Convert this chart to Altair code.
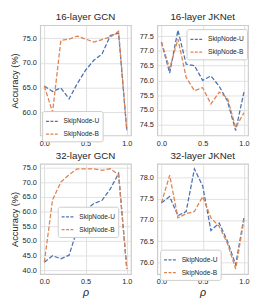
import altair as alt
import pandas as pd

rho = [0.0, 0.1, 0.2, 0.3, 0.4, 0.5, 0.6, 0.7, 0.8, 0.9, 1.0]
series_names = ["SkipNode-U", "SkipNode-B"]
colors = ["#4C72B0", "#DD8452"]

gcn16_u = [65.3, 64.2, 64.9, 62.7, 65.8, 68.5, 70.5, 71.8, 75.5, 76.0, 56.3]
gcn16_b = [65.3, 60.0, 74.5, 74.8, 75.4, 74.8, 74.2, 74.7, 75.2, 76.4, 56.3]
jk16_u = [77.3, 76.25, 77.7, 76.55, 76.5, 76.0, 76.15, 75.8, 75.3, 74.3, 75.6]
jk16_b = [77.3, 76.4, 77.4, 76.1, 75.65, 75.75, 75.2, 75.6, 75.4, 74.4, 74.9]
gcn32_u = [42.8, 45.0, 44.0, 45.2, 54.0, 60.5, 62.7, 63.8, 67.7, 72.9, 40.5]
gcn32_b = [42.8, 64.0, 70.0, 72.5, 74.5, 74.5, 74.5, 74.0, 74.5, 72.5, 40.5]
jk32_u = [77.4, 77.55, 77.1, 77.2, 78.2, 77.8, 76.75, 76.93, 76.5, 75.95, 77.05]
jk32_b = [77.4, 78.05, 77.05, 77.15, 77.2, 77.55, 77.05, 76.85, 76.45, 75.85, 77.0]

titles = ["16-layer GCN", "16-layer JKNet", "32-layer GCN", "32-layer JKNet"]
x_ticks = [0.0, 0.5, 1.0]
y_ticks = [
    [60, 65, 70, 75],
    [74.5, 75.0, 75.5, 76.0, 76.5, 77.0, 77.5],
    [40, 45, 50, 55, 60, 65, 70, 75],
    [76.0, 76.5, 77.0, 77.5, 78.0],
]
y_domains = [[55.3, 77.6], [74.13, 77.87], [38.8, 76.2], [75.73, 78.32]]

FONT = "Liberation Sans"
TXT = "#262626"
W, H = 93, 113


def panel(i, u, b, legend_xy, ytitle, xtitle):
    df = pd.DataFrame({
        "rho": rho + rho,
        "acc": u + b,
        "model": [series_names[0]] * len(rho) + [series_names[1]] * len(rho),
    })
    return alt.Chart(df).mark_line(strokeDash=[4.5, 2], strokeWidth=1.3).encode(
        x=alt.X("rho:Q",
                scale=alt.Scale(domain=[-0.05, 1.05], nice=False, zero=False),
                axis=alt.Axis(values=x_ticks, format=".1f", title=xtitle,
                              titleFontStyle="italic", titleFontSize=11,
                              titlePadding=1, labelFlush=False)),
        y=alt.Y("acc:Q",
                scale=alt.Scale(domain=y_domains[i], nice=False, zero=False),
                axis=alt.Axis(values=y_ticks[i], format=".1f", title=ytitle,
                              titleFontSize=9.5, titlePadding=3)),
        color=alt.Color("model:N",
                        scale=alt.Scale(domain=series_names, range=colors),
                        legend=alt.Legend(orient="none", legendX=legend_xy[0],
                                          legendY=legend_xy[1], title=None,
                                          symbolType="stroke", symbolDash=[3, 1.5],
                                          symbolStrokeWidth=1.3, symbolSize=170,
                                          labelFontSize=6.8, labelFont=FONT,
                                          labelColor=TXT, fillColor="white",
                                          strokeColor="#cccccc", cornerRadius=2,
                                          padding=3, rowPadding=1, labelOffset=4)),
        detail="model:N",
    ).properties(
        width=W, height=H,
        title=alt.TitleParams(titles[i], fontSize=10, font=FONT, color=TXT,
                              fontWeight="normal", offset=3),
    )


p1 = panel(0, gcn16_u, gcn16_b, (2, 88), "Accuracy (%)", None)
p2 = panel(1, jk16_u, jk16_b, (30, 4), None, None)
p3 = panel(2, gcn32_u, gcn32_b, (18, 44), "Accuracy (%)", "ρ")
p4 = panel(3, jk32_u, jk32_b, (3, 88), None, "ρ")

chart = alt.concat(
    p1, p2, p3, p4, columns=2,
    spacing=alt.RowColnumber(row=29, column=27),
    bounds="flush",
).resolve_legend(color="independent").configure_view(
    stroke="#cccccc", strokeWidth=1.2
).configure_axis(
    domain=False, ticks=False, grid=True, gridColor="#dddddd", gridWidth=0.9,
    labelFont=FONT, labelFontSize=7.5, labelColor=TXT, labelPadding=4,
    titleFont=FONT, titleColor=TXT, titleFontWeight="normal",
).properties(padding=0)

chart.save("out.html", embed_options={"renderer": "svg", "actions": False})
